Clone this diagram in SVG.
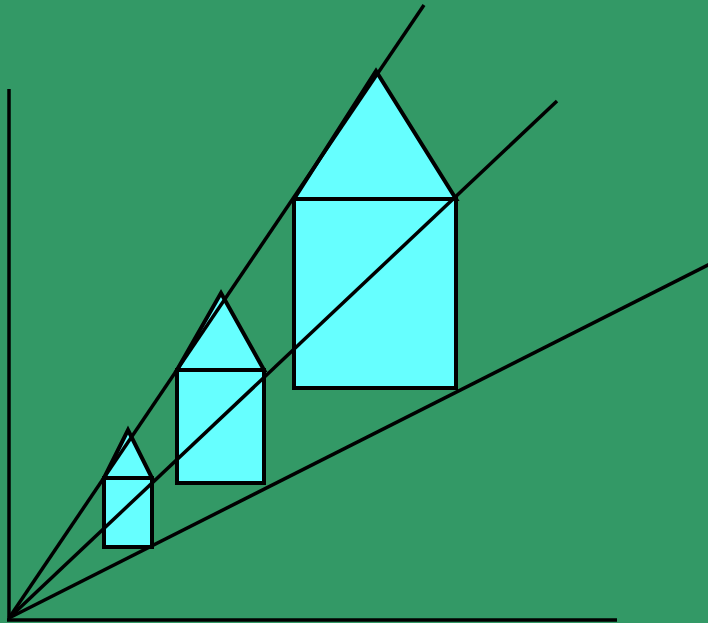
<svg xmlns="http://www.w3.org/2000/svg" width="708" height="623" viewBox="0 0 708 623">
<style>
.h{fill:#66FFFF;stroke:#000;stroke-width:4;stroke-linejoin:miter}
.l{stroke:#000;stroke-width:3.5;fill:none}
</style>
<rect width="708" height="623" fill="#339966"/>
<g id="house-small">
<polygon class="h" points="104,478 128,430 152,478"/>
<rect class="h" x="104" y="478" width="48" height="69"/>
</g>
<g id="house-medium">
<polygon class="h" points="177,370 221,293 264,370"/>
<rect class="h" x="177" y="370" width="87" height="113"/>
</g>
<g id="house-large">
<polygon class="h" points="294,199 376,71 456,199"/>
<rect class="h" x="294" y="199" width="162" height="189"/>
</g>
<g id="connectors">
<line class="l" x1="9" y1="89" x2="9" y2="621"/>
<line class="l" x1="7" y1="620" x2="617" y2="620"/>
<line class="l" x1="9" y1="618" x2="424" y2="5"/>
<line class="l" x1="9" y1="618" x2="557" y2="101"/>
<line class="l" x1="9" y1="618" x2="712" y2="263"/>
</g>
</svg>
